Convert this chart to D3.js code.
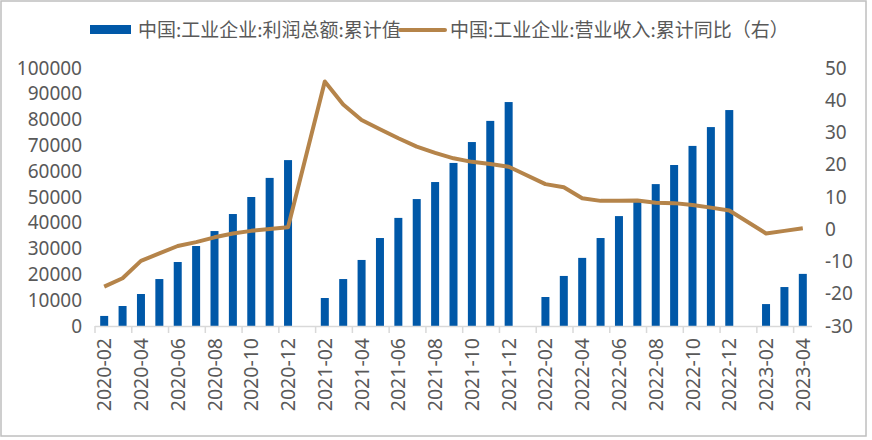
<!DOCTYPE html>
<html><head><meta charset="utf-8">
<script src="https://cdn.jsdelivr.net/npm/d3@7/dist/d3.min.js"></script>
<style>body{margin:0;background:#fff}svg{display:block}</style>
</head><body><svg id="c" width="872" height="440"></svg>
<script>
const categories = ["2020-02","2020-03","2020-04","2020-05","2020-06","2020-07","2020-08","2020-09","2020-10","2020-11","2020-12",
"2021-01","2021-02","2021-03","2021-04","2021-05","2021-06","2021-07","2021-08","2021-09","2021-10","2021-11","2021-12",
"2022-01","2022-02","2022-03","2022-04","2022-05","2022-06","2022-07","2022-08","2022-09","2022-10","2022-11","2022-12",
"2023-01","2023-02","2023-03","2023-04"];
const profit = [3900,7750,12400,18200,24800,31000,36800,43400,50000,57400,64300,
null,10850,18200,25600,34100,41900,49200,55800,63200,71300,79500,86800,
null,11240,19400,26400,34100,42600,48800,55000,62400,69800,77100,83700,
null,8500,15100,20200];
const revenueYoY = [-17.8,-15.2,-9.8,-7.5,-5.2,-4.0,-2.5,-1.3,-0.5,0.1,0.6,
null,45.8,38.7,33.9,31.0,28.2,25.6,23.7,22.0,20.9,20.2,19.4,
null,14.0,13.0,9.6,8.8,8.8,8.9,8.2,8.1,7.5,6.7,5.8,
null,-1.3,-0.5,0.3];
const leftTicks = [0,10000,20000,30000,40000,50000,60000,70000,80000,90000,100000];
const rightTicks = [-30,-20,-10,0,10,20,30,40,50];
const seriesNames = ["中国:工业企业:利润总额:累计值","中国:工业企业:营业收入:累计同比（右）"];

const svg = d3.select("#c");
const FONT = "'Noto Sans CJK SC','Noto Sans',sans-serif";
const NUMFONT = "'Noto Sans','Noto Sans CJK SC',sans-serif";
const TXT = "#595959";
const BLUE = "#0058A8", GOLD = "#B5844A";
const L = 95, R = 812, T = 68, B = 326;

svg.append("rect").attr("x",1).attr("y",1).attr("width",865).attr("height",435)
  .attr("fill","#fff").attr("stroke","#bfbfbf").attr("stroke-width",1.5);

const x = d3.scaleBand().domain(categories).range([L,R]).paddingInner(0).paddingOuter(0);
const yL = d3.scaleLinear().domain([0,100000]).range([B,T]);
const yR = d3.scaleLinear().domain([-30,50]).range([B,T]);
const bw = 8;

// left axis
const gl = svg.append("g").attr("transform",`translate(${L-13},0)`)
  .call(d3.axisLeft(yL).tickValues(leftTicks).tickSize(0).tickPadding(0).tickFormat(d3.format("d")));
gl.select(".domain").remove();
gl.selectAll("text").attr("font-family",NUMFONT).attr("font-size",19).attr("fill",TXT);

// right axis
const gr = svg.append("g").attr("transform",`translate(${R+13},0)`)
  .call(d3.axisRight(yR).tickValues(rightTicks).tickSize(0).tickPadding(0).tickFormat(d=>d<0?"-"+Math.abs(d):String(d)));
gr.select(".domain").remove();
gr.selectAll("text").attr("font-family",NUMFONT).attr("font-size",19).attr("fill",TXT);

// bars
svg.append("g").selectAll("rect").data(categories.map((c,i)=>({c,v:profit[i]})).filter(d=>d.v!=null))
  .join("rect")
  .attr("x",d=>x(d.c)+x.bandwidth()/2-bw/2).attr("width",bw)
  .attr("y",d=>yL(d.v)).attr("height",d=>B-yL(d.v)).attr("fill",BLUE);

// bottom axis
const tickCats = categories.filter((c,i)=>i%2===0);
svg.append("line").attr("x1",L).attr("x2",R).attr("y1",B+0.5).attr("y2",B+0.5).attr("stroke","#d9d9d9").attr("stroke-width",1.5);
svg.append("g").selectAll("line").data(tickCats).join("line")
  .attr("x1",d=>x(d)).attr("x2",d=>x(d)).attr("y1",B).attr("y2",B+7)
  .attr("stroke","#d9d9d9").attr("stroke-width",1.5);
svg.append("g").selectAll("text").data(tickCats).join("text")
  .attr("transform",d=>`translate(${x(d)+x.bandwidth()/2+7},338) rotate(-90)`)
  .attr("text-anchor","end").attr("font-family",NUMFONT).attr("font-size",19.5).attr("fill",TXT)
  .text(d=>d);

// line
const pts = categories.map((c,i)=>({c,v:revenueYoY[i]})).filter(d=>d.v!=null);
svg.append("path").datum(pts)
  .attr("d",d3.line().x(d=>x(d.c)+x.bandwidth()/2).y(d=>yR(d.v)))
  .attr("fill","none").attr("stroke",GOLD).attr("stroke-width",4).attr("stroke-linejoin","round");

// legend
const lg = svg.append("g");
lg.append("rect").attr("x",90).attr("y",25).attr("width",41).attr("height",9).attr("fill",BLUE);
lg.append("text").attr("x",138).attr("y",37).attr("font-family",FONT).attr("font-size",19).attr("fill",TXT).text(seriesNames[0]);
lg.append("line").attr("x1",400).attr("x2",445).attr("y1",30).attr("y2",30).attr("stroke",GOLD).attr("stroke-width",4).attr("stroke-linecap","round");
lg.append("text").attr("x",450).attr("y",37).attr("font-family",FONT).attr("font-size",19).attr("fill",TXT).text(seriesNames[1]);
</script></body></html>
